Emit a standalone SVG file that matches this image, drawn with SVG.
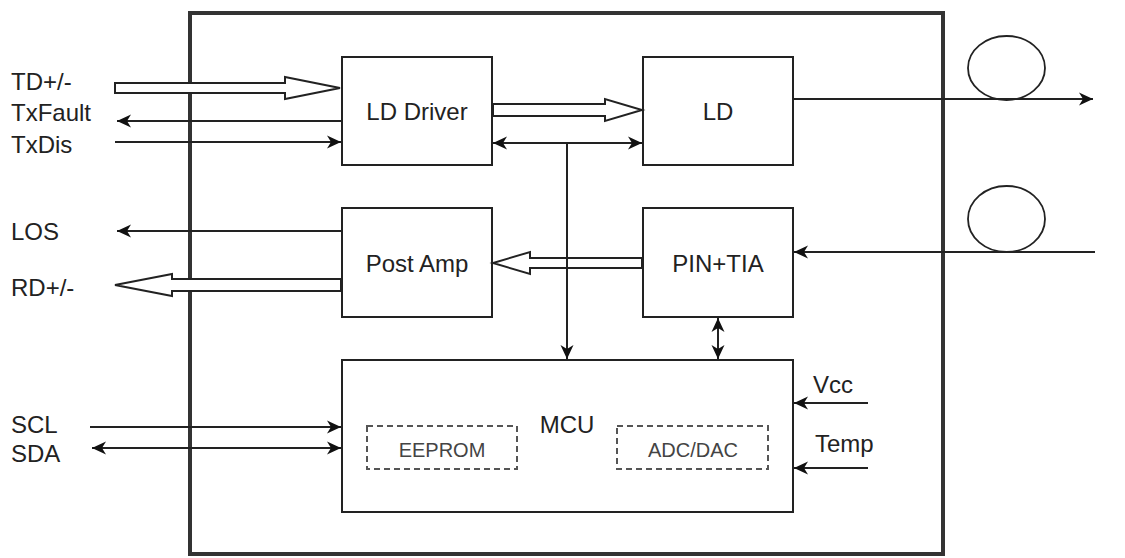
<svg xmlns="http://www.w3.org/2000/svg" width="1125" height="558" viewBox="0 0 1125 558">
<style>
.box{fill:#fff;stroke:#222;stroke-width:2}
.dash{fill:none;stroke:#555;stroke-width:2;stroke-dasharray:6,4}
.ln{fill:none;stroke:#222;stroke-width:2}
.hol{fill:#fff;stroke:#222;stroke-width:2;stroke-linejoin:miter}
.t{font-family:"Liberation Sans",Arial,sans-serif;font-size:24px;fill:#222}
.s{font-family:"Liberation Sans",Arial,sans-serif;font-size:20px;fill:#444}
</style>
<defs>
<marker id="ah" markerUnits="userSpaceOnUse" markerWidth="16" markerHeight="16" viewBox="0 0 16 16" refX="15" refY="8" orient="auto-start-reverse">
<path d="M1,1.5 L15,8 L1,14.5 L5,8 z" fill="#111"/>
</marker>
</defs>
<rect x="0" y="0" width="1125" height="558" fill="#fff"/>
<g id="frame"><rect x="190" y="13" width="753" height="541" fill="none" stroke="#333" stroke-width="4"/></g>
<g id="ld-driver"><rect class="box" x="342" y="57" width="150" height="108"/><text class="t" x="417" y="120" text-anchor="middle">LD Driver</text></g>
<g id="ld"><rect class="box" x="643" y="57" width="150" height="108"/><text class="t" x="718" y="120" text-anchor="middle">LD</text></g>
<g id="post-amp"><rect class="box" x="342" y="208" width="150" height="109"/><text class="t" x="417" y="272" text-anchor="middle">Post Amp</text></g>
<g id="pin-tia"><rect class="box" x="643" y="208" width="150" height="109"/><text class="t" x="718" y="272" text-anchor="middle">PIN+TIA</text></g>
<g id="mcu"><rect class="box" x="342" y="360" width="451" height="152"/><text class="t" x="567" y="433" text-anchor="middle">MCU</text>
<g id="eeprom"><rect class="dash" x="367" y="426" width="150" height="43"/><text class="s" x="442" y="457" text-anchor="middle">EEPROM</text></g>
<g id="adc-dac"><rect class="dash" x="617" y="426" width="151" height="43"/><text class="s" x="693" y="457" text-anchor="middle">ADC/DAC</text></g>
</g>
<g id="fibers"><ellipse cx="1006.5" cy="68" rx="38.5" ry="32" fill="none" stroke="#222" stroke-width="1.8"/><ellipse cx="1006.5" cy="219" rx="38.5" ry="33" fill="none" stroke="#222" stroke-width="1.8"/></g>
<g id="labels">
<text class="t" x="11" y="90">TD+/-</text>
<text class="t" x="11" y="121">TxFault</text>
<text class="t" x="11" y="153">TxDis</text>
<text class="t" x="11" y="240">LOS</text>
<text class="t" x="11" y="296">RD+/-</text>
<text class="t" x="11" y="433">SCL</text>
<text class="t" x="11" y="462">SDA</text>
<text class="t" x="813" y="393">Vcc</text>
<text class="t" x="815" y="452">Temp</text>
</g>
<g id="connectors">
<polygon class="hol" points="115,83 285,83 285,77 340,88 285,99 285,93 115,93"/>
<polygon class="hol" points="493,104 605,104 605,99 642,110 605,121 605,116 493,116"/>
<polygon class="hol" points="642,258 530,258 530,252 493,263 530,274 530,268 642,268"/>
<polygon class="hol" points="341,279 172,279 172,274 115,285 172,296 172,291 341,291"/>
<line class="ln" x1="342" y1="121" x2="117" y2="121" marker-end="url(#ah)"/>
<line class="ln" x1="115" y1="142" x2="341" y2="142" marker-end="url(#ah)"/>
<line class="ln" x1="342" y1="231" x2="117" y2="231" marker-end="url(#ah)"/>
<line class="ln" x1="493" y1="143" x2="642" y2="143" marker-start="url(#ah)" marker-end="url(#ah)"/>
<line class="ln" x1="567" y1="143" x2="567" y2="359" marker-end="url(#ah)"/>
<line class="ln" x1="718" y1="318" x2="718" y2="359" marker-start="url(#ah)" marker-end="url(#ah)"/>
<line class="ln" x1="793" y1="99" x2="1093" y2="99" marker-end="url(#ah)"/>
<line class="ln" x1="1095" y1="252" x2="794" y2="252" marker-end="url(#ah)"/>
<line class="ln" x1="90" y1="427" x2="341" y2="427" marker-end="url(#ah)"/>
<line class="ln" x1="92" y1="448" x2="341" y2="448" marker-start="url(#ah)" marker-end="url(#ah)"/>
<line class="ln" x1="868" y1="403" x2="794" y2="403" marker-end="url(#ah)"/>
<line class="ln" x1="868" y1="468" x2="794" y2="468" marker-end="url(#ah)"/>
</g>
</svg>
